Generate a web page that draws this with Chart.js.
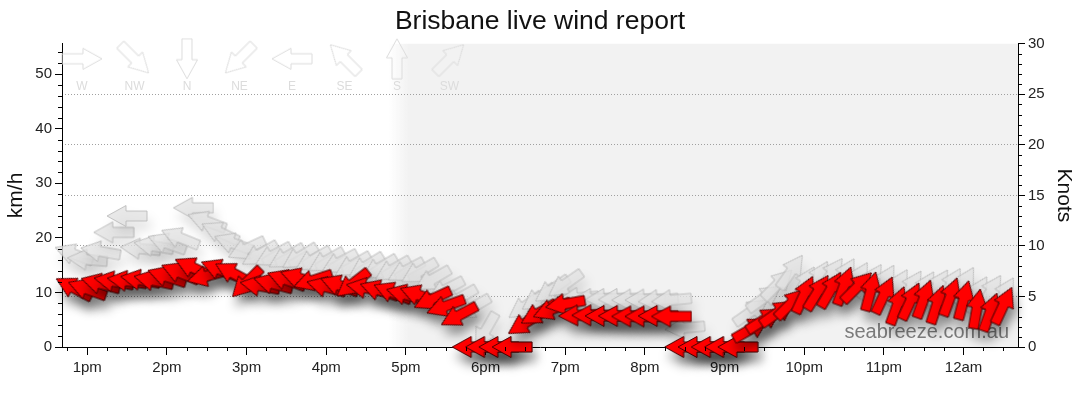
<!DOCTYPE html>
<html>
<head>
<meta charset="utf-8">
<title>Brisbane live wind report</title>
<script src="https://cdn.jsdelivr.net/npm/chart.js@4.4.1/dist/chart.umd.min.js"></script>
<style>
  html, body { margin: 0; padding: 0; background: #fff; }
  canvas { display: block; }
</style>
</head>
<body>
<canvas id="grafico" width="1080" height="414"></canvas>
<script>
// observation times (10 min steps, 12:50pm -> 12:30am)
const times = [
  '12:50', '13:00', '13:10', '13:20', '13:30', '13:40', '13:50',
  '14:00', '14:10', '14:20', '14:30', '14:40', '14:50',
  '15:00', '15:10', '15:20', '15:30', '15:40', '15:50',
  '16:00', '16:10', '16:20', '16:30', '16:40', '16:50',
  '17:00', '17:10', '17:20', '17:30', '17:40', '17:50',
  '18:00', '18:10', '18:20', '18:30', '18:40', '18:50',
  '19:00', '19:10', '19:20', '19:30', '19:40', '19:50',
  '20:00', '20:10', '20:20', '20:30', '20:40', '20:50',
  '21:00', '21:10', '21:20', '21:30', '21:40', '21:50',
  '22:00', '22:10', '22:20', '22:30', '22:40', '22:50',
  '23:00', '23:10', '23:20', '23:30', '23:40', '23:50',
  '00:00', '00:10', '00:20', '00:30'
];

// average wind, km/h
const windSpeed = [
  10.8, 10.6, 11.6, 12.0, 12.1, 12.3, 12.2,
  12.9, 13.6, 14.5, 13.0, 14.2, 13.5,
  11.8, 11.2, 11.6, 12.3, 12.6, 12.2,
  11.0, 11.3, 11.6, 10.8, 10.4, 10.0,
  9.6, 9.5, 8.8, 7.5, 5.8, 0,
  0, 0, 0, 4.4, 6.2, 6.9,
  7.9, 5.8, 5.8, 5.7, 5.7, 5.6,
  5.6, 5.7, 5.6, 0, 0, 0,
  0, 0, 3.3, 5.0, 6.3, 8.0,
  9.6, 10.0, 10.5, 11.2, 11.0, 10.2,
  9.5, 7.6, 8.4, 8.8, 7.8, 9.2,
  8.6, 7.0, 6.4, 7.6
];

// direction the wind comes from, degrees
const windDir = [
  118, 110, 105, 100, 98, 100, 102,
  108, 112, 115, 75, 112, 118,
  45, 100, 105, 110, 108, 72,
  105, 110, 52, 100, 108, 112,
  105, 110, 65, 70, 62, 90,
  90, 90, 90, 58, 60, 68,
  80, 88, 90, 90, 90, 90,
  90, 90, 90, 90, 90, 90,
  90, 90, 240, 238, 235, 225,
  205, 212, 210, 200, 225, 195,
  205, 200, 205, 200, 198, 200,
  195, 190, 200, 205
];

// gusts, km/h
const gustSpeed = [
  17.0, 16.0, 17.5, 21.0, 24.0, 18.0, 18.5,
  19.0, 20.0, 25.5, 23.0, 21.0, 19.0,
  18.0, 17.0, 16.8, 16.5, 16.5, 16.0,
  15.8, 15.5, 15.0, 14.8, 14.5, 14.2,
  14.0, 13.8, 12.4, 10.5, 8.9, 7.2,
  3.0, 0, 0, 7.5, 9.0, 10.5,
  11.5, 9.0, 8.8, 8.8, 8.8, 8.7,
  8.7, 8.6, 8.6, 3.5, 0, 0,
  0, 0, 6.5, 9.0, 11.5, 13.8,
  11.5, 12.5, 13.2, 13.0, 12.3, 12.0,
  11.8, 11.0, 10.8, 10.6, 11.0, 11.2,
  11.4, 9.7, 10.0, 9.5
];

const gustDir = [
  110, 95, 100, 90, 90, 95, 100,
  110, 112, 90, 110, 115, 110,
  65, 60, 62, 60, 58, 60,
  60, 62, 60, 58, 60, 60,
  62, 60, 60, 62, 60, 60,
  30, 90, 90, 55, 55, 55,
  55, 85, 88, 88, 88, 88,
  88, 85, 85, 85, 90, 90,
  90, 90, 235, 235, 225, 215,
  210, 210, 215, 210, 210, 212,
  210, 210, 212, 210, 212, 210,
  210, 210, 212, 210
];

// axes
const xMin = 761;   // 12:41pm, in minutes
const xMax = 1481;  // 12:41am
const hourTicks = [780, 840, 900, 960, 1020, 1080, 1140, 1200, 1260, 1320, 1380, 1440];
const hourLabels = ['1pm', '2pm', '3pm', '4pm', '5pm', '6pm', '7pm', '8pm', '9pm', '10pm', '11pm', '12am'];
const kmhTicks = [0, 10, 20, 30, 40, 50];
const knotTicks = [0, 5, 10, 15, 20, 25, 30];
const nightStart = 1016;

const compassLabels = ['W', 'NW', 'N', 'NE', 'E', 'SE', 'S', 'SW'];
const compassDir = [270, 315, 0, 45, 90, 135, 180, 225];

function toMinutes(s) {
  const [h, m] = s.split(':').map(Number);
  return (h < 12 ? h + 24 : h) * 60 + m;
}

// arrow drawn pointing up, centred on the canvas
function arrowPath(g, cx, cy) {
  g.beginPath();
  g.moveTo(cx, cy - 20);
  g.lineTo(cx + 10.5, cy - 1);
  g.lineTo(cx + 5, cy - 1);
  g.lineTo(cx + 5, cy + 20);
  g.lineTo(cx - 5, cy + 20);
  g.lineTo(cx - 5, cy - 1);
  g.lineTo(cx - 10.5, cy - 1);
  g.closePath();
}

function makeArrow(fill, stroke) {
  const c = document.createElement('canvas');
  c.width = 24;
  c.height = 42;
  const g = c.getContext('2d');
  arrowPath(g, 12, 21);
  if (fill) { g.fillStyle = fill; g.fill(); }
  g.strokeStyle = stroke;
  g.lineWidth = 1;
  g.stroke();
  return c;
}

const redArrow = makeArrow('#ff0000', '#4a0000');
const greyArrow = makeArrow('rgba(226,226,226,0.78)', 'rgba(180,180,180,0.8)');
const compassArrow = makeArrow(null, '#dcdcdc');

const xs = times.map(toMinutes);
const toRotation = d => (d + 180) % 360;

// night shading
const nightShade = {
  id: 'nightShade',
  beforeDraw(chart) {
    const {ctx, chartArea: a, scales} = chart;
    const p = scales.x.getPixelForValue(nightStart);
    const grad = ctx.createLinearGradient(p - 12, 0, p + 8, 0);
    grad.addColorStop(0, 'rgba(242,242,242,0)');
    grad.addColorStop(1, 'rgba(242,242,242,1)');
    ctx.save();
    ctx.fillStyle = grad;
    ctx.fillRect(p - 12, a.top, a.right - p + 12, a.bottom - a.top);
    ctx.restore();
  }
};

// compass key and watermark
const decor = {
  id: 'decor',
  beforeDatasetsDraw(chart) {
    const {ctx, chartArea: a} = chart;
    ctx.save();
    ctx.font = '12px "Liberation Sans", Arial, sans-serif';
    ctx.fillStyle = '#dcdcdc';
    ctx.textAlign = 'center';
    ctx.textBaseline = 'middle';
    compassLabels.forEach((lab, i) => {
      const cx = a.left + 20 + i * 52.5;
      const cy = a.top + 15;
      ctx.save();
      ctx.translate(cx, cy);
      ctx.rotate(toRotation(compassDir[i]) * Math.PI / 180);
      ctx.drawImage(compassArrow, -12, -21);
      ctx.restore();
      ctx.fillText(lab, cx, a.top + 43);
    });
    ctx.font = '20px "Liberation Sans", Arial, sans-serif';
    ctx.fillStyle = '#7c7c7c';
    ctx.textAlign = 'right';
    ctx.textBaseline = 'alphabetic';
    ctx.fillText('seabreeze.com.au', a.right - 9, a.bottom - 9);
    ctx.restore();
  }
};

// soft shadow under every arrow
const shadow = {
  id: 'shadow',
  beforeDatasetDraw(chart, args) {
    const ds = chart.data.datasets[args.index];
    const ctx = chart.ctx;
    ctx.save();
    ctx.shadowColor = ds.shadowColor || 'rgba(0,0,0,0.3)';
    ctx.shadowBlur = 11;
    ctx.shadowOffsetX = 3;
    ctx.shadowOffsetY = 9;
  },
  afterDatasetDraw(chart) {
    chart.ctx.restore();
  }
};

// small ticks between labelled ones
const minorTicks = {
  id: 'minorTicks',
  afterDraw(chart) {
    const {ctx, chartArea: a, scales} = chart;
    ctx.save();
    ctx.strokeStyle = '#000';
    ctx.lineWidth = 1;
    ctx.beginPath();
    for (let m = 765; m < xMax; m += 15) {
      if (m % 60 === 0) continue;
      const x = Math.round(scales.x.getPixelForValue(m)) + 0.5;
      ctx.moveTo(x, a.bottom);
      ctx.lineTo(x, a.bottom + 4);
    }
    for (let v = 2; v < 56; v += 2) {
      if (v % 10 === 0) continue;
      const y = Math.round(scales.y.getPixelForValue(v)) + 0.5;
      ctx.moveTo(a.left - 4, y);
      ctx.lineTo(a.left, y);
    }
    for (let k = 1; k < 30; k++) {
      if (k % 5 === 0) continue;
      const y = Math.round(scales.y2.getPixelForValue(k)) + 0.5;
      ctx.moveTo(a.right, y);
      ctx.lineTo(a.right + 4, y);
    }
    ctx.stroke();
    ctx.restore();
  }
};

Chart.defaults.font.family = '"Liberation Sans", Arial, sans-serif';
Chart.defaults.color = '#333';

const ctx = document.getElementById('grafico').getContext('2d');
new Chart(ctx, {
  type: 'scatter',
  data: {
    datasets: [
      {
        label: 'Wind',
        data: xs.map((x, i) => ({x: x, y: windSpeed[i]})),
        pointStyle: redArrow,
        rotation: windDir.map(toRotation),
        radius: 20,
        shadowColor: 'rgba(0,0,0,0.4)',
        clip: false,
        order: 1
      },
      {
        label: 'Gust',
        data: xs.map((x, i) => ({x: x, y: gustSpeed[i]})),
        pointStyle: greyArrow,
        rotation: gustDir.map(toRotation),
        radius: 20,
        shadowColor: 'rgba(0,0,0,0.14)',
        clip: false,
        order: 2
      }
    ]
  },
  options: {
    responsive: false,
    animation: false,
    events: [],
    layout: { padding: 0 },
    plugins: {
      legend: { display: false },
      tooltip: { enabled: false },
      title: {
        display: true,
        text: 'Brisbane live wind report',
        color: '#111',
        font: { size: 26.5, weight: 'normal' },
        padding: { top: 6, bottom: 6 }
      }
    },
    scales: {
      x: {
        type: 'linear',
        position: 'bottom',
        min: xMin,
        max: xMax,
        afterBuildTicks: axis => { axis.ticks = hourTicks.map(v => ({value: v})); },
        afterFit: axis => { axis.height = 67; },
        ticks: {
          callback: v => hourLabels[hourTicks.indexOf(v)],
          font: { size: 15 },
          color: '#222',
          padding: 4,
          maxRotation: 0
        },
        grid: { drawOnChartArea: false, tickLength: 8, tickColor: '#000' },
        border: { color: '#000' }
      },
      y: {
        position: 'left',
        min: 0,
        max: 30 * 1.852,
        afterBuildTicks: axis => { axis.ticks = kmhTicks.map(v => ({value: v})); },
        afterFit: axis => { axis.width = 62; },
        title: { display: true, text: 'km/h', font: { size: 21 }, color: '#111' },
        ticks: { font: { size: 15 }, color: '#222', padding: 3 },
        grid: { drawOnChartArea: false, tickLength: 7, tickColor: '#000' },
        border: { color: '#000' }
      },
      y2: {
        position: 'right',
        min: 0,
        max: 30,
        afterBuildTicks: axis => { axis.ticks = knotTicks.map(v => ({value: v})); },
        afterFit: axis => { axis.width = 62; },
        title: { display: true, text: 'Knots', font: { size: 21 }, color: '#111' },
        ticks: { font: { size: 15 }, color: '#222', padding: 3 },
        grid: {
          color: c => (c.tick && c.tick.value > 0 && c.tick.value < 30) ? '#a0a0a0' : 'rgba(0,0,0,0)',
          tickLength: 7,
          tickColor: '#000'
        },
        border: { color: '#000', dash: [1, 2] }
      }
    }
  },
  plugins: [nightShade, decor, shadow, minorTicks]
});
</script>
</body>
</html>
